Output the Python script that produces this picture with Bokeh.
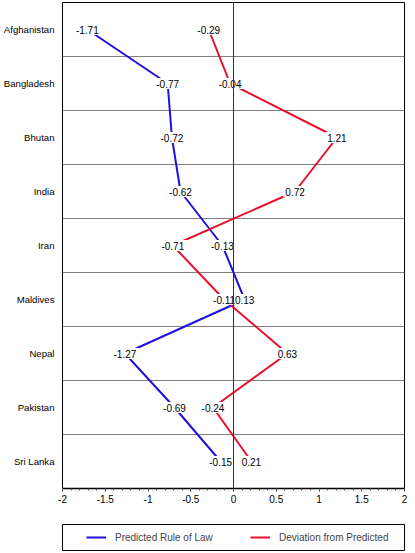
from bokeh.plotting import figure
from bokeh.layouts import column
from bokeh.models import (ColumnDataSource, Span, Legend, LegendItem,
                          FixedTicker, SingleIntervalTicker, Range1d)
from bokeh.core.properties import value
from bokeh.embed import file_html
from bokeh.resources import INLINE

# ---- data ----
countries = ["Afghanistan", "Bangladesh", "Bhutan", "India", "Iran",
             "Maldives", "Nepal", "Pakistan", "Sri Lanka"]
predicted = [-1.71, -0.77, -0.72, -0.62, -0.13, 0.13, -1.27, -0.69, -0.15]
deviation = [-0.29, -0.04, 1.21, 0.72, -0.71, -0.11, 0.63, -0.24, 0.21]
x_tick_values = [-2, -1.5, -1, -0.5, 0, 0.5, 1, 1.5, 2]
x_tick_labels = ["-2", "-1.5", "-1", "-0.5", "0", "0.5", "1", "1.5", "2"]
series_names = ["Predicted Rule of Law", "Deviation from Predicted"]

BLUE = "#2211dd"
RED = "#e8112d"
FONT = "Liberation Sans"

rows = list(range(len(countries)))

p = figure(width=408, height=520,
           min_border_left=62, min_border_right=4, min_border_top=2,
           min_border_bottom=32,
           x_range=Range1d(-2, 2),
           y_range=Range1d(len(countries) - 0.5, -0.5),
           output_backend="svg", toolbar_location=None,
           background_fill_color="white", border_fill_color="white")

p.outline_line_color = "black"
p.outline_line_width = 1

# grid
p.xgrid.visible = False
p.ygrid.ticker = FixedTicker(ticks=[i + 0.5 for i in rows[:-1]])
p.ygrid.grid_line_color = "#808080"
p.ygrid.grid_line_width = 1

# y axis (categories)
p.yaxis.ticker = FixedTicker(ticks=rows)
p.yaxis.major_label_overrides = {i: c for i, c in zip(rows, countries)}
p.yaxis.axis_line_color = None
p.yaxis.major_tick_line_color = None
p.yaxis.minor_tick_line_color = None
p.yaxis.major_tick_out = 0
p.yaxis.major_label_standoff = 8
p.yaxis.major_label_text_font = FONT
p.yaxis.major_label_text_font_size = "9.6px"
p.yaxis.major_label_text_color = "black"

# x axis
p.xaxis.ticker = SingleIntervalTicker(interval=0.5, num_minor_ticks=5)
p.xaxis.major_label_overrides = {v: s for v, s in zip(x_tick_values, x_tick_labels)}
p.xaxis.axis_line_width = 1.5
p.xaxis.axis_line_color = "black"
p.xaxis.major_tick_in = 0
p.xaxis.major_tick_out = 3
p.xaxis.minor_tick_in = 0
p.xaxis.minor_tick_out = 2
p.xaxis.major_tick_line_color = "#333333"
p.xaxis.minor_tick_line_color = "#555555"
p.xaxis.major_label_standoff = 3
p.xaxis.major_label_text_font = FONT
p.xaxis.major_label_text_font_size = "10px"
p.xaxis.major_label_text_color = "black"

# lines
p.line(predicted, rows, line_color=BLUE, line_width=2)
p.line(deviation, rows, line_color=RED, line_width=2)

# value labels with a white box that hides the line under the number
texts = ["%.2f" % v for v in predicted + deviation]
lab_src = ColumnDataSource(dict(
    x=predicted + deviation,
    y=rows + rows,
    t=texts,
    w=[5.6 * len(t) + 1 for t in texts],
))
p.rect(x="x", y="y", width="w", height=11, width_units="screen",
       height_units="screen", source=lab_src, fill_color="white",
       line_color=None)
p.text(x="x", y="y", text="t", source=lab_src,
       text_align="center", text_baseline="middle",
       text_font=value(FONT), text_font_size="10px", text_color="black")

# zero line
p.add_layout(Span(location=0, dimension="height", line_color="#333333",
                  line_width=1, level="overlay"))

# ---- legend strip below the chart (its frame outline is the legend box) ----
leg = figure(width=408, height=32,
             min_border_left=62, min_border_right=4, min_border_top=4,
             min_border_bottom=2,
             x_range=Range1d(-2, 2), y_range=Range1d(100, 101),
             x_axis_location=None, y_axis_location=None,
             output_backend="svg", toolbar_location=None,
             background_fill_color="white", border_fill_color="white")
leg.outline_line_color = "black"
leg.outline_line_width = 1
leg.grid.visible = False
lb = leg.line(predicted, rows, line_color=BLUE, line_width=2)
lr = leg.line(deviation, rows, line_color=RED, line_width=2)

legend = Legend(items=[LegendItem(label=series_names[0], renderers=[lb]),
                       LegendItem(label=series_names[1], renderers=[lr])],
                orientation="horizontal", location=(24, 5),
                border_line_color=None, background_fill_alpha=0.0,
                label_text_font=FONT, label_text_font_size="10px",
                glyph_width=20, glyph_height=16, label_height=16,
                label_width=110, label_standoff=9, spacing=25,
                padding=0, margin=0)
leg.add_layout(legend, "center")

layout = column(p, leg, spacing=0)
open("out.html", "w").write(file_html(layout, INLINE))
